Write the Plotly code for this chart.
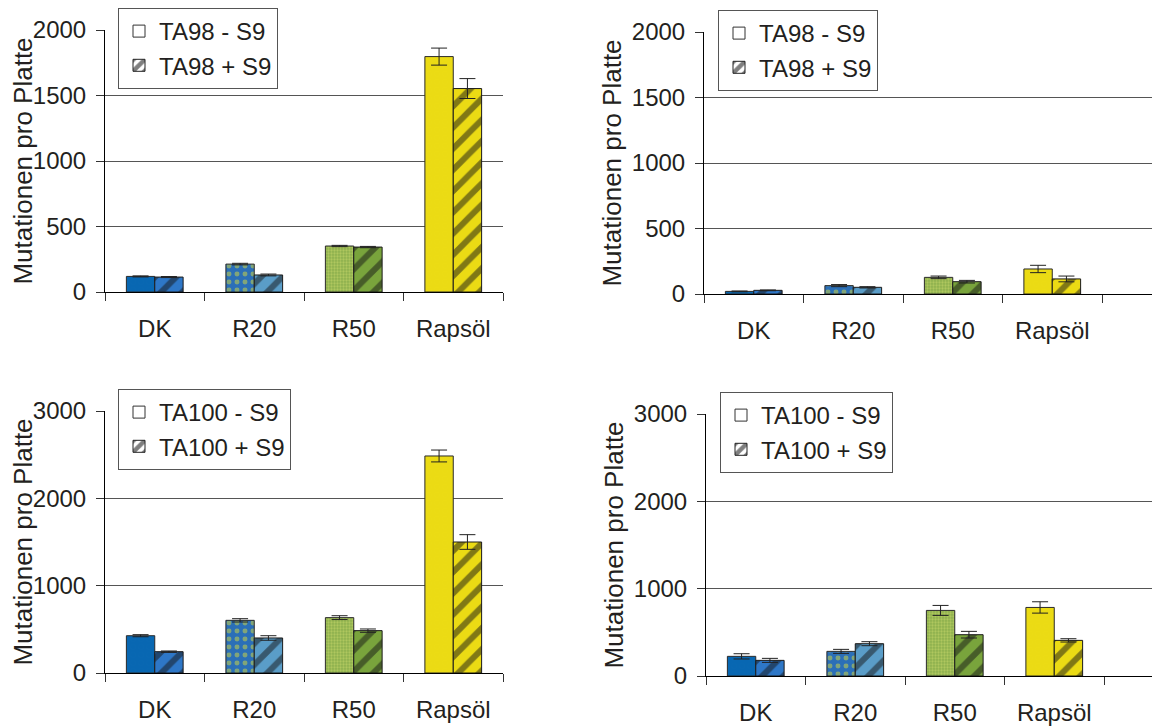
import plotly.graph_objects as go

categories = ["DK", "R20", "R50", "Rapsöl"]

# Panel 1: TA98 (left)
p1_minus = [119, 213, 351, 1797]
p1_minus_err = [4, 6, 5, 65]
p1_plus = [114, 130, 343, 1553]
p1_plus_err = [4, 7, 5, 76]

# Panel 2: TA98 (right)
p2_minus = [20, 64, 127, 191]
p2_minus_err = [3, 8, 10, 28]
p2_plus = [28, 51, 94, 115]
p2_plus_err = [3, 5, 10, 22]

# Panel 3: TA100 (left)
p3_minus = [427, 603, 634, 2485]
p3_minus_err = [12, 19, 22, 68]
p3_plus = [244, 401, 485, 1500]
p3_plus_err = [8, 26, 19, 84]

# Panel 4: TA100 (right)
p4_minus = [225, 282, 751, 785]
p4_minus_err = [30, 23, 57, 65]
p4_plus = [179, 370, 473, 408]
p4_plus_err = [23, 23, 38, 19]

legend_names = [
    ("TA98 - S9", "TA98 + S9"),
    ("TA98 - S9", "TA98 + S9"),
    ("TA100 - S9", "TA100 + S9"),
    ("TA100 - S9", "TA100 + S9"),
]

FONT = "Liberation Sans, Arial, sans-serif"
TXT = "#231F20"

minus_bg = ["#0867B2", "#2B6FB7", "#8DB04D", "#EBDB14"]
minus_shape = [".", ".", ".", "."]
minus_fg = ["#0867B2", "#D8DC3C", "#D2DE70", "#EBDB14"]
minus_size = [8, 8, 3, 8]
minus_sol = [0.3, 0.3, 0.45, 0.3]

plus_bg = ["#2E77C7", "#5A9DC8", "#79A43C", "#EBDB14"]
plus_fg = ["#151515", "#151515", "#151515", "#151515"]

panels = [
    (p1_minus, p1_minus_err, p1_plus, p1_plus_err),
    (p2_minus, p2_minus_err, p2_plus, p2_plus_err),
    (p3_minus, p3_minus_err, p3_plus, p3_plus_err),
    (p4_minus, p4_minus_err, p4_plus, p4_plus_err),
]

fig = go.Figure()

for i, (ym, em, yp, ep) in enumerate(panels):
    ax = "" if i == 0 else str(i + 1)
    fig.add_trace(go.Bar(
        x=categories, y=ym, xaxis="x" + ax, yaxis="y" + ax, showlegend=False,
        marker=dict(color="#888888", line=dict(color="#2a2a2a", width=1),
                    pattern=dict(shape=minus_shape, fgcolor=minus_fg, bgcolor=minus_bg,
                                 size=minus_size, solidity=minus_sol)),
        error_y=dict(type="data", array=em, color="#222", thickness=1, width=8),
    ))
    fig.add_trace(go.Bar(
        x=categories, y=yp, xaxis="x" + ax, yaxis="y" + ax, showlegend=False,
        marker=dict(color="#888888", line=dict(color="#1a1a1a", width=1),
                    pattern=dict(shape=["/"] * 4, fgcolor=plus_fg, bgcolor=plus_bg,
                                 size=15, solidity=0.4)),
        error_y=dict(type="data", array=ep, color="#222", thickness=1, width=8),
    ))

# legend-only entries on a hidden axis
for i, (n1, n2) in enumerate(legend_names):
    lg = "legend" if i == 0 else "legend" + str(i + 1)
    fig.add_trace(go.Bar(x=[None], y=[None], name=n1, legend=lg, xaxis="x5", yaxis="y5",
                         marker=dict(color="white", line=dict(color="#333", width=1))))
    fig.add_trace(go.Bar(x=[None], y=[None], name=n2, legend=lg, xaxis="x5", yaxis="y5",
                         marker=dict(color="white", line=dict(color="#222", width=1),
                                     pattern=dict(shape="/", fgcolor="black", bgcolor="white",
                                                  size=12, solidity=0.55))))

# the page body has an 8px margin: figure is drawn at (8, 8) in the page
OFF = 8
W, H = 1160 - OFF, 726 - OFF
# pixel layout of each plot area in page pixels: (left, right, top, bottom)
areas = [(105, 503, 30, 292), (704, 1160, 32, 294), (105, 503, 411, 673), (706, 1160, 414, 676)]
yranges = [2000, 2000, 3000, 3000]
ydticks = [500, 500, 1000, 1000]
cat_px = 99.5
legend_pos = [(118, 8), (718, 10), (118, 389), (720, 392)]

layout = dict(
    width=W, height=H, margin=dict(l=0, r=0, t=0, b=0),
    paper_bgcolor="white", plot_bgcolor="white",
    barmode="group", bargap=0.43, bargroupgap=0,
    font=dict(family=FONT, size=24, color=TXT),
    xaxis5=dict(domain=[0, 0.001], visible=False),
    yaxis5=dict(domain=[0, 0.001], visible=False),
)

for i, (l, r, t, b) in enumerate(areas):
    ax = "" if i == 0 else str(i + 1)
    l, r, t, b = l - OFF, min(r - OFF, W), t - OFF, b - OFF
    xr = [-0.5, -0.5 + (r - l) / cat_px]
    layout["xaxis" + ax] = dict(
        domain=[l / W, r / W], anchor="y" + ax, type="category", range=xr,
        showline=True, linecolor="black", linewidth=1, automargin=False,
        ticks="outside", tickson="boundaries", ticklen=8, tickcolor="#333",
        showgrid=False, ticklabelstandoff=15,
        tickfont=dict(family=FONT, size=24, color=TXT),
    )
    layout["yaxis" + ax] = dict(
        domain=[1 - b / H, 1 - t / H], anchor="x" + ax, range=[0, yranges[i]],
        dtick=ydticks[i], showline=True, linecolor="black", linewidth=1, automargin=False,
        ticks="outside", ticklen=8, tickcolor="#333", ticklabelstandoff=5,
        showgrid=True, gridcolor="#555", gridwidth=1, zeroline=False,
        tickfont=dict(family=FONT, size=24, color=TXT),
        title=dict(text="Mutationen pro Platte", standoff=2,
                   font=dict(family=FONT, size=26, color=TXT)),
    )
    lx, ly = legend_pos[i]
    lg = "legend" if i == 0 else "legend" + str(i + 1)
    layout[lg] = dict(
        x=(lx - OFF) / W, y=1 - (ly - OFF) / H, xanchor="left", yanchor="top",
        bgcolor="white", bordercolor="#555", borderwidth=1,
        font=dict(family=FONT, size=24, color=TXT), traceorder="normal",
    )

fig.update_layout(**layout)
fig.write_html("out.html")
